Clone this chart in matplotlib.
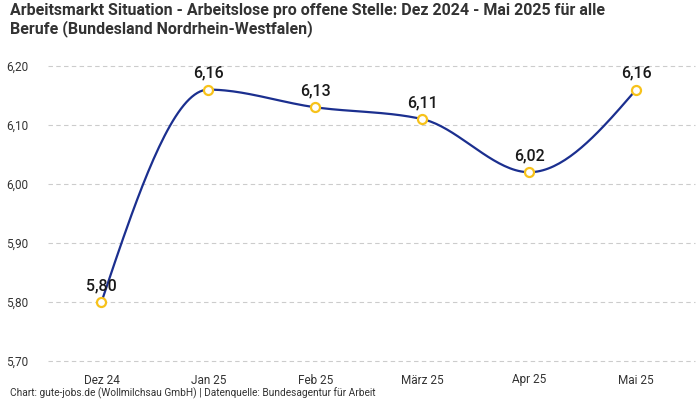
import numpy as np
import matplotlib.pyplot as plt
from matplotlib.ticker import FuncFormatter

plt.rcParams['font.family'] = ['Roboto', 'DejaVu Sans']

months = ["Dez 24", "Jan 25", "Feb 25", "März 25", "Apr 25", "Mai 25"]
values = [5.80, 6.16, 6.13, 6.11, 6.02, 6.16]
y_ticks = [5.70, 5.80, 5.90, 6.00, 6.10, 6.20]

title = ("Arbeitsmarkt Situation - Arbeitslose pro offene Stelle: Dez 2024 - Mai 2025 für alle\n"
         "Berufe (Bundesland Nordrhein-Westfalen)")
footer = "Chart: gute-jobs.de (Wollmilchsau GmbH) | Datenquelle: Bundesagentur für Arbeit"


def monotone_curve(x, y, n=40):
    # d3 curveMonotoneX style interpolation
    x = np.asarray(x, float)
    y = np.asarray(y, float)
    h = np.diff(x)
    s = np.diff(y) / h
    t = np.zeros(len(x))
    for i in range(1, len(x) - 1):
        p = (s[i - 1] * h[i] + s[i] * h[i - 1]) / (h[i - 1] + h[i])
        t[i] = (np.sign(s[i - 1]) + np.sign(s[i])) * min(abs(s[i - 1]), abs(s[i]), 0.5 * abs(p))
    t[0] = (3 * s[0] - t[1]) / 2
    t[-1] = (3 * s[-1] - t[-2]) / 2
    xs, ys = [], []
    for i in range(len(x) - 1):
        u = np.linspace(0, 1, n)
        dx = h[i]
        p0 = (x[i], y[i])
        p1 = (x[i] + dx / 3, y[i] + dx * t[i] / 3)
        p2 = (x[i + 1] - dx / 3, y[i + 1] - dx * t[i + 1] / 3)
        p3 = (x[i + 1], y[i + 1])
        b = [(1 - u) ** 3, 3 * (1 - u) ** 2 * u, 3 * (1 - u) * u ** 2, u ** 3]
        xs.append(b[0] * p0[0] + b[1] * p1[0] + b[2] * p2[0] + b[3] * p3[0])
        ys.append(b[0] * p0[1] + b[1] * p1[1] + b[2] * p2[1] + b[3] * p3[1])
    return np.concatenate(xs), np.concatenate(ys)


fig = plt.figure(figsize=(7, 4), dpi=100)
ax = fig.add_axes([48 / 700, 39 / 400, 647 / 700, 295 / 400])

xpos = np.arange(len(months))
cx, cy = monotone_curve(xpos, values)
ax.plot(cx, cy, color="#1b2f8f", lw=1.6, zorder=3)
ax.plot(xpos, values, "o", ms=6.5, mfc="white", mec="#f7c21b", mew=1.6, zorder=4)

for xi, v in zip(xpos, values):
    ax.annotate(f"{v:.2f}".replace(".", ","), (xi, v), xytext=(0, 6.5),
                textcoords="offset points", ha="center", va="bottom",
                fontsize=11.5, fontweight="medium", color="#1a1a1a", zorder=5)

ax.set_xlim(-0.5, 5.55)
ax.set_ylim(5.70, 6.20)
ax.set_yticks(y_ticks)
ax.yaxis.set_major_formatter(FuncFormatter(lambda v, _: f"{v:.2f}".replace(".", ",")))
ax.set_xticks(xpos)
ax.set_xticklabels(months)
ax.tick_params(axis="both", length=0, labelsize=8.5, labelcolor="#333333")
ax.tick_params(axis="y", pad=14)
ax.tick_params(axis="x", pad=9)
ax.grid(axis="y", color="#cccccc", ls=(0, (4, 3)), lw=0.8)
for gl in ax.get_ygridlines():
    gl.set_clip_on(False)
for sp in ax.spines.values():
    sp.set_visible(False)

fig.text(10 / 700, 1 - 3 / 400, title, ha="left", va="top", fontsize=11.5,
         fontweight="bold", color="#333333", linespacing=1.15)
fig.text(10 / 700, 1 - 393 / 400, footer, ha="left", va="center", fontsize=7.3, color="#333333")

fig.savefig("out.png", dpi=100)
